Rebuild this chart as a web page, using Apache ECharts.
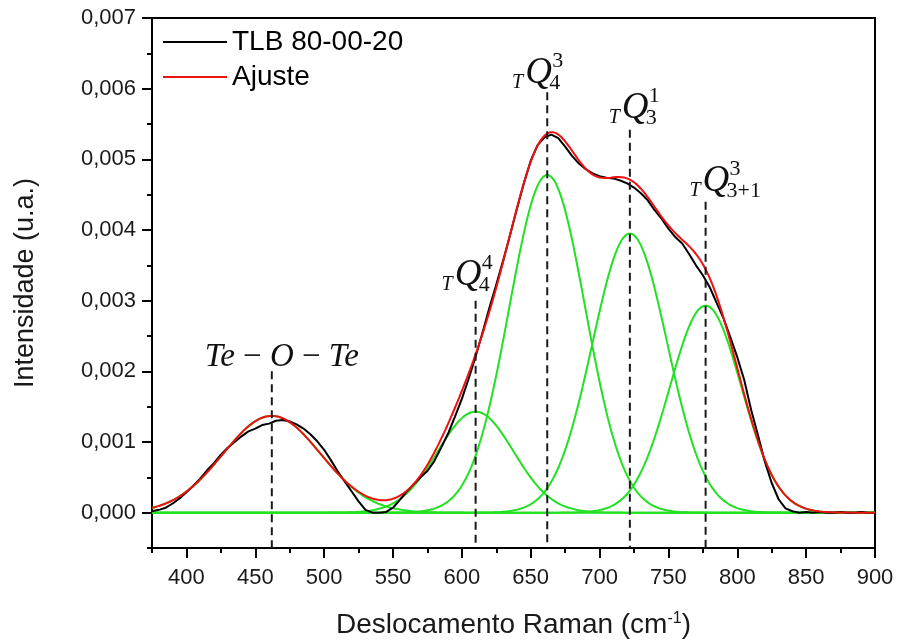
<!DOCTYPE html>
<html><head><meta charset="utf-8">
<script src="https://cdn.jsdelivr.net/npm/echarts@6/dist/echarts.min.js"></script>
<style>html,body{margin:0;padding:0;background:#fff}#c{width:899px;height:644px}</style>
</head><body><div id="c"></div>
<script>
// Raman shift (cm-1) of the measured spectrum samples
const ramanShift = [375,380,385,390,395,400,405,410,415,420,425,430,435,440,445,450,455,460,465,470,475,480,485,490,495,500,505,510,515,520,525,530,535,540,545,550,555,560,565,570,575,580,585,590,595,600,605,610,615,620,625,630,635,640,645,650,655,660,665,670,675,680,685,690,695,700,705,710,715,720,725,730,735,740,745,750,755,760,765,770,775,780,785,790,795,800,805,810,815,820,825,830,835,840,845,850,855,860,865,870,875,880,885,890,895,900];
// Measured intensity (TLB 80-00-20)
const measured = [0.00002,0.00004,0.00007,0.00013,0.00020,0.00029,0.00038,0.00048,0.00060,0.00070,0.00082,0.00092,0.00100,0.00108,0.00115,0.00119,0.00124,0.00126,0.00130,0.00131,0.00129,0.00125,0.00119,0.00111,0.00101,0.00089,0.00074,0.00058,0.00044,0.00030,0.00016,0.00004,0.00000,0.00000,0.00001,0.00007,0.00018,0.00030,0.00040,0.00050,0.00059,0.00073,0.00092,0.00112,0.00136,0.00161,0.00190,0.00221,0.00255,0.00290,0.00323,0.00357,0.00393,0.00430,0.00466,0.00498,0.00520,0.00531,0.00535,0.00530,0.00518,0.00505,0.00494,0.00486,0.00480,0.00476,0.00474,0.00473,0.00470,0.00466,0.00460,0.00452,0.00442,0.00428,0.00416,0.00402,0.00390,0.00381,0.00366,0.00350,0.00336,0.00319,0.00297,0.00275,0.00248,0.00220,0.00188,0.00146,0.00110,0.00072,0.00042,0.00019,0.00006,0.00002,0.00000,0.00001,0.00000,0.00001,0.00000,0.00000,0.00001,0.00000,0.00000,0.00001,0.00000,0.00000];
// Fitted Gaussian bands: centre (cm-1), height, sigma (cm-1)
const bandCenters = [462, 610, 662, 722, 777];
const bandHeights = [0.00137, 0.00143, 0.00478, 0.00395, 0.00293];
const bandSigmas  = [35.5, 27.5, 27.6, 27.2, 26];
// Top of the dashed guide line for each band
const markerTops = [0.0020, 0.0030, 0.00595, 0.00542, 0.00440];
const bandLabels = [
  {main: true},
  {sup: '4', sub: '4'},
  {sup: '3', sub: '4'},
  {sup: '1', sub: '3'},
  {sup: '3', sub: '3+1'}
];
const seriesNames = ['TLB 80-00-20', 'Ajuste'];
const xMin = 375, xMax = 900, yMin = -0.0005, yMax = 0.007;

// ---- layout / style (not data) ----
const labelOffsets = [[10,-3],[-21,-13],[-22,-7],[-8,-9],[-3,-8]];
const serif = "'Liberation Serif','Times New Roman',serif";
const sans = "'Liberation Sans',Arial,sans-serif";

function band(i, x) {
  const d = x - bandCenters[i];
  return bandHeights[i] * Math.exp(-d * d / (2 * bandSigmas[i] * bandSigmas[i]));
}
const fitX = [];
for (let x = xMin; x <= xMax; x += 1) fitX.push(x);

const greenSeries = bandCenters.map((c, i) => ({
  type: 'line', name: 'banda ' + (i + 1), symbol: 'none', silent: true, z: 2,
  data: fitX.map(x => [x, band(i, x)]),
  lineStyle: {color: '#22e022', width: 2}, itemStyle: {color: '#22e022'}
}));

const fmtY = v => (v < -1e-9 ? '' : v.toFixed(3).replace('.', ','));

const chart = echarts.init(document.getElementById('c'), null, {renderer: 'canvas'});
chart.setOption({
  animation: false,
  backgroundColor: '#fff',
  grid: {left: 152, right: 24, top: 18, bottom: 95, show: true, borderColor: '#000', borderWidth: 2, backgroundColor: 'transparent'},
  legend: {
    data: seriesNames.map(n => ({name: n, icon: 'rect'})), orient: 'vertical', left: 158, top: 21,
    itemWidth: 64, itemHeight: 2, itemGap: 3,
    textStyle: {fontSize: 28, fontFamily: sans, color: '#000', lineHeight: 32, padding: [0, 0, 0, 0]}
  },
  xAxis: [{
    type: 'value', min: xMin, max: xMax, splitNumber: 10, minInterval: 50, maxInterval: 50, position: 'bottom',
    axisLine: {show: true, onZero: false, lineStyle: {color: '#000', width: 2}},
    axisTick: {show: true, length: 10, lineStyle: {color: '#000', width: 2}},
    axisLabel: {showMinLabel: false, fontSize: 22, fontFamily: sans, color: '#1a1a1a', margin: 19},
    splitLine: {show: false},
    name: 'Deslocamento Raman (cm{s|-1})', nameLocation: 'middle', nameGap: 63,
    nameTextStyle: {fontSize: 28, fontFamily: sans, color: '#1a1a1a', rich: {s: {fontSize: 16, fontFamily: sans, verticalAlign: 'top', color: '#1a1a1a'}}}
  }, {
    type: 'value', min: xMin, max: xMax, interval: 25, position: 'bottom',
    axisLine: {show: false, onZero: false}, axisLabel: {show: false}, splitLine: {show: false},
    axisTick: {show: true, length: 5, lineStyle: {color: '#000', width: 2}}
  }],
  yAxis: [{
    type: 'value', min: yMin, max: yMax, splitNumber: 8, minInterval: 0.001, maxInterval: 0.001, position: 'left',
    axisLine: {show: true, onZero: false, lineStyle: {color: '#000', width: 2}},
    axisTick: {show: true, length: 10, lineStyle: {color: '#000', width: 2}},
    axisLabel: {showMinLabel: false, fontSize: 22, fontFamily: sans, color: '#1a1a1a', margin: 16, formatter: fmtY},
    splitLine: {show: false},
    name: 'Intensidade (u.a.)', nameLocation: 'middle', nameRotate: 90, nameGap: 113,
    nameTextStyle: {fontSize: 27, fontFamily: sans, color: '#1a1a1a'}
  }, {
    type: 'value', min: yMin, max: yMax, interval: 0.0005, position: 'left',
    axisLine: {show: false, onZero: false}, axisLabel: {show: false}, splitLine: {show: false},
    axisTick: {show: true, length: 5, lineStyle: {color: '#000', width: 2}}
  }],
  series: [
    ...greenSeries,
    {type: 'line', name: seriesNames[0], symbol: 'none', z: 3,
     data: ramanShift.map((x, i) => [x, measured[i]]),
     lineStyle: {color: '#000', width: 2}, itemStyle: {color: '#000'}},
    {type: 'line', name: seriesNames[1], symbol: 'none', z: 4,
     data: fitX.map(x => [x, bandCenters.reduce((s, c, i) => s + band(i, x), 0)]),
     lineStyle: {color: '#ee1111', width: 2}, itemStyle: {color: '#ee1111'}},
    {type: 'custom', name: 'guias', z: 6, silent: true,
     data: bandCenters.map((c, i) => [c, markerTops[i]]),
     renderItem: function (params, api) {
       const i = params.dataIndex;
       const top = api.coord([api.value(0), api.value(1)]);
       const bot = api.coord([api.value(0), yMin]);
       const off = labelOffsets[i];
       const ax = top[0] + off[0], ab = top[1] + off[1];
       const mid = (b, fs) => b - 0.33 * fs;
       const children = [{type: 'line', shape: {x1: top[0], y1: top[1], x2: bot[0], y2: bot[1]},
         style: {stroke: '#1a1a1a', lineWidth: 2, lineDash: [8, 5]}}];
       const L = bandLabels[i];
       if (L.main) {
         children.push({type: 'text', x: ax, y: mid(ab, 33), style: {
           text: '{i|Te}{m| − }{i|O}{m| − }{i|Te}', align: 'center', verticalAlign: 'middle',
           rich: {i: {fontFamily: serif, fontStyle: 'italic', fontSize: 33, fill: '#111'},
                  m: {fontFamily: serif, fontSize: 33, fill: '#111'}}}});
       } else {
         children.push({type: 'text', x: ax - 2, y: mid(ab + 4, 20), style: {text: 'T', fontFamily: serif, fontStyle: 'italic', fontSize: 20, fill: '#111', align: 'right', verticalAlign: 'middle'}});
         children.push({type: 'text', x: ax, y: mid(ab, 37), style: {text: 'Q', fontFamily: serif, fontStyle: 'italic', fontSize: 37, fill: '#111', align: 'left', verticalAlign: 'middle'}});
         children.push({type: 'text', x: ax + 27, y: mid(ab - 17, 22), style: {text: L.sup, fontFamily: serif, fontSize: 22, fill: '#111', align: 'left', verticalAlign: 'middle'}});
         children.push({type: 'text', x: ax + 24, y: mid(ab + 5, 22), style: {text: L.sub, fontFamily: serif, fontSize: 22, fill: '#111', align: 'left', verticalAlign: 'middle'}});
       }
       return {type: 'group', children: children};
     }}
  ]
});
</script></body></html>
